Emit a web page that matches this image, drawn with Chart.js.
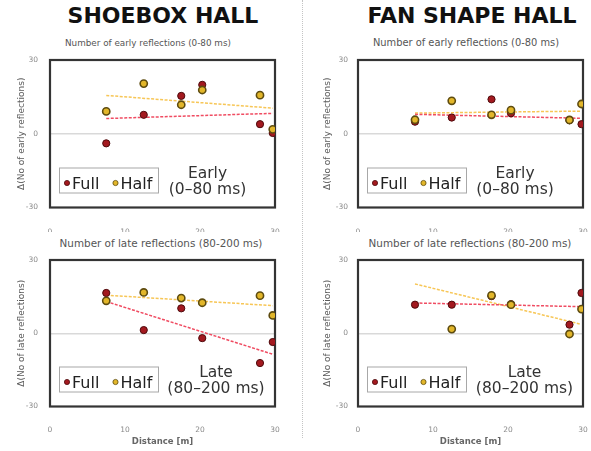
<!DOCTYPE html>
<html>
<head>
<meta charset="utf-8">
<script src="https://cdn.jsdelivr.net/npm/chart.js@4.4.0/dist/chart.umd.min.js"></script>
<style>
  html, body { margin: 0; padding: 0; background: #fff; }
  #wrap { position: relative; width: 591px; height: 451px; overflow: hidden; font-family: "DejaVu Sans", Verdana, sans-serif; }
  canvas { position: absolute; }
  .hall { position: absolute; font-weight: bold; font-size: 22px; line-height: 26px; color: #111; white-space: nowrap; transform: translateX(-50%); }
  .sub { position: absolute; color: #555; white-space: nowrap; transform: translateX(-50%); }
  #sep { position: absolute; left: 302px; top: 0; height: 438px; border-left: 1px dotted #c4c4c4; }
</style>
</head>
<body>
<div id="wrap">
  <div id="sep"></div>
  <div class="hall" style="left:163px; top:3px">SHOEBOX HALL</div>
  <div class="hall" style="left:472px; top:3px">FAN SHAPE HALL</div>
  <div class="sub" style="left:148px; top:37.5px; font-size:8.8px; line-height:11px">Number of early reflections (0-80 ms)</div>
  <div class="sub" style="left:466px; top:37px; font-size:9.9px; line-height:12px">Number of early reflections (0-80 ms)</div>
  <div class="sub" style="left:161px; top:237px; font-size:10.4px; line-height:12px">Number of late reflections (80-200 ms)</div>
  <div class="sub" style="left:470px; top:237px; font-size:10.4px; line-height:12px">Number of late reflections (80-200 ms)</div>
  <canvas id="tl" width="300" height="232" style="left:0; top:0"></canvas>
  <canvas id="tr" width="291" height="232" style="left:300px; top:0"></canvas>
  <canvas id="bl" width="300" height="219" style="left:0; top:232px"></canvas>
  <canvas id="br" width="291" height="219" style="left:300px; top:232px"></canvas>
</div>
<script>
// distances of the seats [m]
const shoeboxDist = [7.5, 12.5, 17.5, 20.3, 28, 29.7];
const fanDist = [7.6, 12.5, 17.8, 20.4, 28.2, 29.8];

// shoebox hall
const shoeEarlyFull = [-3.9, 7.7, 15.4, 19.9, 3.9, 0.3];
const shoeEarlyHalf = [9.1, 20.4, 11.8, 17.8, 15.7, 1.8];
const shoeLateFull = [16.5, 1.3, 10.2, -2.0, -12.2, -3.6];
const shoeLateHalf = [13.3, 16.7, 14.4, 12.5, 15.4, 7.3];

// fan shape hall
const fanEarlyFull = [4.9, 6.6, 14.0, 8.3, 5.5, 3.9];
const fanEarlyHalf = [5.7, 13.4, 7.7, 9.6, 5.6, 12.1];
const fanLateFull = [11.7, 11.7, 15.2, 11.9, 3.5, 16.5];
const fanLateHalf = [null, 1.7, 15.5, 11.7, -0.3, 9.9];

// trend lines (start / end)
const shoeTrendX = [7.5, 29.7];
const fanTrendX = [7.6, 29.6];
const shoeEarlyTrendFull = [6.2, 8.3];
const shoeEarlyTrendHalf = [15.6, 10.4];
const shoeLateTrendFull = [13.0, -8.6];
const shoeLateTrendHalf = [15.6, 11.3];
const fanEarlyTrendFull = [7.9, 6.3];
const fanEarlyTrendHalf = [8.4, 9.2];
const fanLateTrendFull = [12.4, 10.9];
const fanLateTrendHalf = [20.2, 3.8];

const yTicks = [-30, 0, 30];
const xTicks = [0, 10, 20, 30];

const FONT = '"DejaVu Sans", Verdana, sans-serif';
const fullFill = '#a3191f', fullEdge = '#4e0a0c';
const halfFill = '#e2b62a', halfEdge = '#5e4c10';

function pts(xs, ys) {
  return xs.map((x, i) => ({ x: x, y: ys[i] })).filter(p => p.y !== null);
}

// frame, legend box and the Early/Late note
const panelDeco = {
  id: 'panelDeco',
  beforeDatasetsDraw(chart) {
    const { ctx, chartArea: a } = chart;
    ctx.save();
    ctx.strokeStyle = '#343434';
    ctx.lineWidth = 2.2;
    ctx.strokeRect(a.left, a.top, a.right - a.left, a.bottom - a.top);
    ctx.restore();
  },
  afterDraw(chart, args, opts) {
    const { ctx, chartArea: a } = chart;
    ctx.save();
    const lx = a.left + 9, ly = a.bottom - 40;
    ctx.strokeStyle = '#a8a8a8';
    ctx.lineWidth = 1;
    ctx.strokeRect(lx + 0.5, ly + 0.5, 99, 25);

    ctx.font = '16px ' + FONT;
    ctx.textBaseline = 'alphabetic';
    ctx.textAlign = 'left';
    const items = chart.data.datasets.filter(d => d.legendItem).sort((p, q) => p.legendItem - q.legendItem);
    let x = lx + 8;
    items.forEach(d => {
      ctx.beginPath();
      ctx.arc(x, ly + 15.5, 2.6, 0, Math.PI * 2);
      ctx.fillStyle = d.backgroundColor;
      ctx.fill();
      ctx.lineWidth = 0.8;
      ctx.strokeStyle = d.borderColor;
      ctx.stroke();
      ctx.fillStyle = '#222';
      ctx.fillText(d.label, x + 5, ly + 21.5);
      x += 48.5;
    });

    ctx.font = '15.5px ' + FONT;
    ctx.fillStyle = '#333';
    ctx.textAlign = 'center';
    ctx.fillText(opts.note[0], a.left + opts.noteDx, a.bottom - 30);
    ctx.fillText(opts.note[1], a.left + opts.noteDx, a.bottom - 13.5);
    ctx.restore();
  }
};

function makePanel(id, p) {
  const canvas = document.getElementById(id);
  const w = canvas.width, h = canvas.height;
  const trendStyle = (color) => ({
    type: 'line', showLine: true, borderColor: color, borderWidth: 1.5,
    borderDash: [3, 1.5], pointRadius: 0, fill: false, order: 3
  });
  return new Chart(canvas, {
    type: 'scatter',
    data: {
      datasets: [
        Object.assign({ label: 'Full trend', data: pts(p.trendX, p.trendFull) }, trendStyle('#f04c62')),
        Object.assign({ label: 'Half trend', data: pts(p.trendX, p.trendHalf) }, trendStyle('#f7c656')),
        { label: 'Full', legendItem: 1, data: pts(p.xs, p.full), backgroundColor: fullFill, borderColor: fullEdge,
          borderWidth: 1, pointRadius: 3.6, order: 1 },
        { label: 'Half', legendItem: 2, data: pts(p.xs, p.half), backgroundColor: halfFill, borderColor: halfEdge,
          borderWidth: 1.6, pointRadius: 3.6, order: 0 }
      ]
    },
    options: {
      responsive: false,
      animation: false,
      devicePixelRatio: 1,
      events: [],
      layout: { padding: { left: p.padL, top: p.top, right: w - p.right, bottom: 0 } },
      plugins: {
        legend: { display: false },
        tooltip: { enabled: false },
        panelDeco: { note: p.note, noteDx: p.noteDx }
      },
      scales: {
        x: {
          type: 'linear', min: 0, max: 30,
          afterBuildTicks: s => { s.ticks = xTicks.map(v => ({ value: v })); },
          afterFit: s => { s.height = h - p.bottom; s.paddingLeft = 0; s.paddingRight = 0; },
          grid: { display: false },
          border: { display: false },
          ticks: { color: '#8a8a8a', font: { family: FONT, size: 7.5 }, padding: p.xTickPad, maxRotation: 0 },
          title: {
            display: !!p.xTitle, text: 'Distance [m]', color: '#666',
            font: { family: FONT, size: 8.5, weight: 'bold' }, padding: { top: 0, bottom: 4.2 }
          }
        },
        y: {
          type: 'linear', min: -30, max: 30,
          afterBuildTicks: s => { s.ticks = yTicks.map(v => ({ value: v })); },
          afterFit: s => { s.width = p.left - p.padL; s.paddingTop = 0; s.paddingBottom = 0; },
          grid: {
            drawTicks: false,
            color: c => (c.tick && c.tick.value === 0 ? '#d9d9d9' : 'rgba(0,0,0,0)'),
            lineWidth: 1.5
          },
          border: { display: false },
          ticks: { color: '#8a8a8a', font: { family: FONT, size: 7.5 }, padding: p.yTickPad },
          title: {
            display: true, text: p.yTitle, color: '#5a5a5a',
            font: { family: FONT, size: 9 }, padding: { top: 6.6, bottom: 0 }
          }
        }
      }
    },
    plugins: [panelDeco]
  });
}

makePanel('tl', {
  left: 50, right: 275, top: 60, bottom: 207.5, padL: 10, xTickPad: 12, yTickPad: 12,
  yTitle: 'Δ(No of early reflections)', xs: shoeboxDist, full: shoeEarlyFull, half: shoeEarlyHalf,
  trendX: shoeTrendX, trendFull: shoeEarlyTrendFull, trendHalf: shoeEarlyTrendHalf,
  note: ['Early', '(0–80 ms)'], noteDx: 157.5
});
makePanel('tr', {
  left: 58, right: 283, top: 60, bottom: 207.5, padL: 16, xTickPad: 12, yTickPad: 10,
  yTitle: 'Δ(No of early reflections)', xs: fanDist, full: fanEarlyFull, half: fanEarlyHalf,
  trendX: fanTrendX, trendFull: fanEarlyTrendFull, trendHalf: fanEarlyTrendHalf,
  note: ['Early', '(0–80 ms)'], noteDx: 157
});
makePanel('bl', {
  left: 50, right: 275, top: 28, bottom: 174.5, padL: 10, xTickPad: 11, yTickPad: 12, xTitle: true,
  yTitle: 'Δ(No of late reflections)', xs: shoeboxDist, full: shoeLateFull, half: shoeLateHalf,
  trendX: shoeTrendX, trendFull: shoeLateTrendFull, trendHalf: shoeLateTrendHalf,
  note: ['Late', '(80–200 ms)'], noteDx: 166
});
makePanel('br', {
  left: 58, right: 283, top: 28, bottom: 174.5, padL: 16, xTickPad: 11, yTickPad: 10, xTitle: true,
  yTitle: 'Δ(No of late reflections)', xs: fanDist, full: fanLateFull, half: fanLateHalf,
  trendX: fanTrendX, trendFull: fanLateTrendFull, trendHalf: fanLateTrendHalf,
  note: ['Late', '(80–200 ms)'], noteDx: 166.5
});
</script>
</body>
</html>
